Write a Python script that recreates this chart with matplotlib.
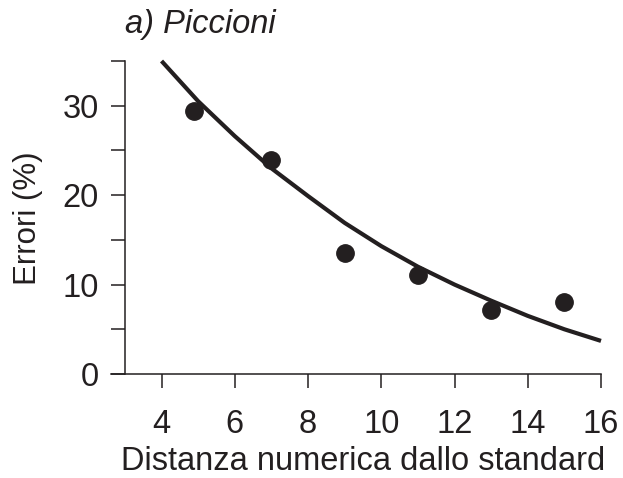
import matplotlib.pyplot as plt

# data
dist_points = [4.9, 7, 9, 11, 13, 15]
error_points = [29.4, 23.9, 13.5, 11.1, 7.2, 8.0]

curve_x = [4, 5, 6, 7, 8, 9, 10, 11, 12, 13, 14, 15, 16]
curve_y = [35.0, 30.5, 26.6, 23.0, 19.9, 16.9, 14.3, 12.0, 10.0, 8.2, 6.5, 5.0, 3.7]

x_ticks = [4, 6, 8, 10, 12, 14, 16]
y_ticks = [0, 5, 10, 15, 20, 25, 30, 35]
y_labels = ["0", "", "10", "", "20", "", "30", ""]

ink = "#231f20"
plt.rcParams["font.family"] = ["Liberation Sans", "DejaVu Sans"]

fig = plt.figure(figsize=(6.23, 4.78), dpi=100)
ax = fig.add_axes([111 / 623, 1 - 374 / 478, 490 / 623, 313 / 478])

ax.plot(curve_x, curve_y, color=ink, lw=3, clip_on=False, solid_capstyle="butt")
ax.plot(dist_points, error_points, "o", color=ink, ms=12.5, clip_on=False)

ax.set_xlim(2.62, 16)
ax.set_ylim(0, 35)
ax.spines["left"].set_position(("data", 3))
ax.spines["top"].set_visible(False)
ax.spines["right"].set_visible(False)
for s in ["left", "bottom"]:
    ax.spines[s].set_linewidth(1.1)
    ax.spines[s].set_color(ink)

ax.set_xticks(x_ticks)
ax.set_yticks(y_ticks)
ax.set_yticklabels(y_labels)
ax.tick_params(axis="both", direction="out", length=10, width=1.1, color=ink,
               labelsize=23.5, labelcolor=ink)
ax.tick_params(axis="y", pad=9)
ax.tick_params(axis="x", pad=15)

fig.text(125 / 623, 1 - 33 / 478, "a) Piccioni", fontsize=23.5, style="italic",
         color=ink, ha="left", va="baseline")
fig.text(28 / 623, 1 - 218 / 478, "Errori (%)", fontsize=22.5, rotation=90,
         color=ink, ha="center", va="center")
fig.text(363 / 623, 1 - 461 / 478, "Distanza numerica dallo standard", fontsize=23.5,
         color=ink, ha="center", va="center")

fig.savefig("out.png", dpi=100)
